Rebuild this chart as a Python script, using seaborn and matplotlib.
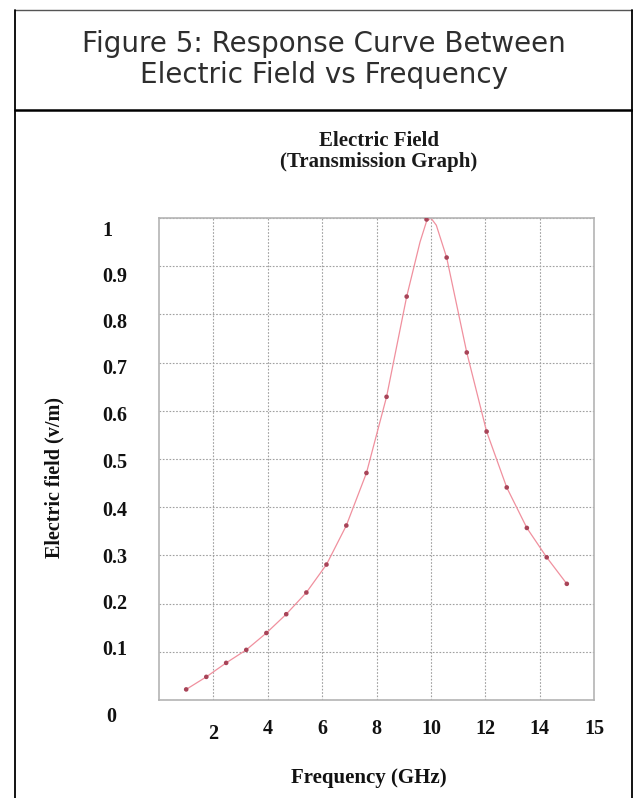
import matplotlib
matplotlib.use("Agg")
import matplotlib.pyplot as plt
import matplotlib.transforms as mtransforms
import seaborn as sns
import pandas as pd
from matplotlib.lines import Line2D

# ---- data ----
freq_points = [1.00, 1.74, 2.47, 3.21, 3.95, 4.68, 5.42, 6.16, 6.89, 7.63,
               8.37, 9.11, 9.84, 10.58, 11.32, 12.05, 12.79, 13.53, 14.26, 15.00]
field_points = [0.022, 0.048, 0.077, 0.104, 0.139, 0.178, 0.223, 0.281, 0.362, 0.471,
                0.629, 0.837, 0.997, 0.918, 0.721, 0.557, 0.441, 0.357, 0.296, 0.241]
# the drawn response curve (sample points plus readings near the apex at 10 GHz)
curve_freq = [1.00, 1.74, 2.47, 3.21, 3.95, 4.68, 5.42, 6.16, 6.89, 7.63,
              8.37, 9.11, 9.60, 9.84, 10.00, 10.20, 10.58, 11.32, 12.05, 12.79,
              13.53, 14.26, 15.00]
curve_field = [0.022, 0.048, 0.077, 0.104, 0.139, 0.178, 0.223, 0.281, 0.362, 0.471,
               0.629, 0.837, 0.950, 0.993, 1.000, 0.985, 0.918, 0.721, 0.557, 0.441,
               0.357, 0.296, 0.241]

x_tick_pos = [2, 4, 6, 8, 10, 12, 14, 16]
x_tick_labels = ["2", "4", "6", "8", "10", "12", "14", "15"]
y_tick_pos = [0, 0.1, 0.2, 0.3, 0.4, 0.5, 0.6, 0.7, 0.8, 0.9, 1.0]
y_tick_labels = ["0", "0.1", "0.2", "0.3", "0.4", "0.5", "0.6", "0.7", "0.8", "0.9", "1"]

header_lines = ["Figure 5: Response Curve Between", "Electric Field vs Frequency"]
subtitle_lines = ["Electric Field", "(Transmission Graph)"]
x_label = "Frequency (GHz)"
y_label = "Electric field (v/m)"

pts = pd.DataFrame({"freq": freq_points, "field": field_points})
curve = pd.DataFrame({"freq": curve_freq, "field": curve_field})

sns.set_style("white")
plt.rcParams["font.family"] = ["DejaVu Sans"]

W, H = 633, 798
fig = plt.figure(figsize=(W / 100, H / 100), dpi=100)
fig.patch.set_facecolor("white")


def fx(px):
    return px / W


def fy(py):
    return 1 - py / H


# outer frame
fig.add_artist(Line2D([fx(15), fx(631.5)], [fy(9.5), fy(9.5)], color="#555555", lw=1.0))
fig.add_artist(Line2D([fx(15), fx(15)], [fy(9.5), 0], color="black", lw=1.3))
fig.add_artist(Line2D([fx(631.5), fx(631.5)], [fy(9.5), 0], color="black", lw=1.3))
fig.add_artist(Line2D([fx(15), fx(631.5)], [fy(110), fy(110)], color="black", lw=1.8))

# header
for i, line in enumerate(header_lines):
    fig.text(fx(324), fy(44 + 31 * i), line, ha="center", va="center",
             fontsize=20, family="DejaVu Sans", fontweight="normal", color="#2e2e2e")

ax = fig.add_axes([fx(159), fy(700), fx(594) - fx(159), fy(218) - fy(700)])

sns.lineplot(data=curve, x="freq", y="field", ax=ax, color="#f0909e", lw=0.9)
sns.scatterplot(data=pts, x="freq", y="field", ax=ax, color="#a84458", s=11,
                edgecolor="none", zorder=3)

ax.set_xlim(0, 16)
ax.set_ylim(0, 1)
ax.set_xticks(x_tick_pos)
ax.set_xticklabels(x_tick_labels)
ax.set_yticks(y_tick_pos)
ax.set_yticklabels(y_tick_labels)

for lab in ax.get_xticklabels() + ax.get_yticklabels():
    lab.set_fontfamily("Liberation Serif")
    lab.set_fontweight("bold")
    lab.set_fontsize(14.5)
    lab.set_color("#111111")
for lab in ax.get_yticklabels():
    lab.set_horizontalalignment("left")

ax.tick_params(axis="x", length=0, pad=14)
ax.tick_params(axis="y", length=0, pad=41)

# small hand-placed offsets of the tick labels as seen in the scan (pixels)
y_label_dx = [4, 0, 0, 0, 0, 0, 0, 0, 0, 0, 0]
y_label_dy = [-14, 4, 2, 0, -1, -1, -3, -4, -6, -8, -11]
for lab, dx, dy in zip(ax.get_yticklabels(), y_label_dx, y_label_dy):
    lab.set_transform(lab.get_transform() +
                      mtransforms.ScaledTranslation(dx / 100, dy / 100, fig.dpi_scale_trans))
x_label_dy = [-5, 0, 0, 0, 0, 0, 0, 0]
for lab, dy in zip(ax.get_xticklabels(), x_label_dy):
    lab.set_transform(lab.get_transform() +
                      mtransforms.ScaledTranslation(0, dy / 100, fig.dpi_scale_trans))

ax.grid(True, color="#a0a0a0", linestyle=(0, (1.5, 1.5)), linewidth=0.8)
for s in ax.spines.values():
    s.set_visible(True)
    s.set_color("#b4b4b4")
    s.set_linewidth(1.2)

ax.set_xlabel("")
ax.set_ylabel("")

for i, line in enumerate(subtitle_lines):
    fig.text(fx(379), fy(140.5 + 21.5 * i), line, ha="center", va="center", fontsize=15,
             family="Liberation Serif", fontweight="bold", color="#1a1a1a")
fig.text(fx(369), fy(778), x_label, ha="center", va="center", fontsize=15,
         family="Liberation Serif", fontweight="bold", color="#111111")
fig.text(fx(54), fy(478), y_label, ha="center", va="center", rotation=90, fontsize=14.5,
         family="Liberation Serif", fontweight="bold", color="#111111")

fig.savefig("out.png", dpi=100, facecolor="white")
